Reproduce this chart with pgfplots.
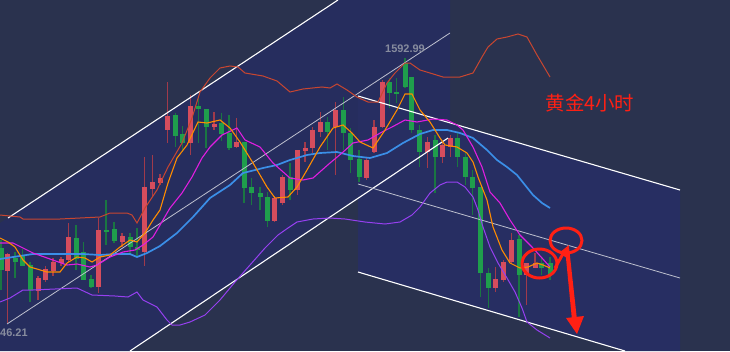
\documentclass[border=0pt]{standalone}
\usepackage{pgfplots}
\pgfplotsset{compat=1.18}
\usepackage{pgfplotstable}
\usepackage{fontspec}
\setmainfont{Liberation Sans}
\newfontfamily\cjk{Noto Sans CJK SC}
\definecolor{slate}{RGB}{42,50,78}
\definecolor{chan}{RGB}{38,45,94}
\definecolor{chanb}{RGB}{39,46,98}
\definecolor{cred}{RGB}{214,77,93}
\definecolor{credw}{RGB}{160,58,75}
\definecolor{cgreen}{RGB}{31,158,76}
\definecolor{cgreenw}{RGB}{26,118,66}
\definecolor{bandr}{RGB}{200,70,48}
\definecolor{maor}{RGB}{255,140,0}
\definecolor{mamag}{RGB}{224,30,224}
\definecolor{mablue}{RGB}{59,143,232}
\definecolor{mapur}{RGB}{150,64,240}
\definecolor{annot}{RGB}{255,32,20}
\definecolor{lbl}{RGB}{135,140,158}

\pgfplotstableread{
x t b h l
7.5 254 271 253 323
38 278 291 276 300
45.5 269 280 266 282
53 262 271 258 276
61 259 263 257 266
68.5 237 260 223 262
98.5 230 287 218 293
122 236 242 233 247
144.7 187 252 157 266
152.7 182 189 155 197
160 178 183 174 185
167.7 116 130 82 143
190.7 106 143 95 155
214 124 127 112 130
236.7 142 147 118 148
274.3 198 221 196 222
282.3 177 203 175 205
297.7 150 190 150 195
305 148 151 142 162
312.7 130 148 127 153
320.7 122 132 112 137
335.7 110 127 102 175
366.7 160 178 157 180
374 127 152 120 153
382.3 82 127 80 128
427.3 142 152 137 168
442.5 145 157 142 163
450.7 138 147 135 157
495.7 279 288 267 292
503.3 262 280 260 282
511.3 240 262 233 263
526.7 263 275 263 305
535 263 268 253 268
}\redc

\pgfplotstableread{
x t b h l
1 248 270 240 290
15 258 262 252 278
22.5 255 266 249 266
30 265 290 262 302
76 238 259 225 270
83.5 252 280 242 280
91 279 287 275 288
106 230 232 200 245
114 229 241 222 243
130 237 247 233 255
137 247 250 228 257
175.7 115 136 113 147
182.7 134 143 126 152
198.3 106 109 97 143
206 109 127 109 148
221.7 123 134 113 141
229 133 148 115 150
244 142 188 142 203
251.7 187 193 178 205
260 193 197 187 210
267.3 197 221 192 227
290 177 190 163 200
327.7 122 132 117 150
343.3 110 133 97 150
350.7 133 160 128 173
359 159 177 150 182
389.3 82 93 78 108
396.7 92 93 78 103
405 63 87 58 88
411.7 77 130 77 133
419.3 130 152 125 167
435 140 157 135 193
457.7 138 157 133 167
465.7 157 177 153 185
472.7 177 188 170 215
480.7 187 273 187 297
488.3 273 288 268 308
519 239 275 235 317
541.7 263 268 258 275
550 263 275 257 280
}\greenc

\begin{document}
\begin{tikzpicture}
\begin{axis}[
  width=730bp, height=351bp, scale only axis,
  xmin=0, xmax=730, ymin=0, ymax=351, y dir=reverse,
  axis lines=none, clip=true,
]
% backgrounds
\addplot[fill=slate, draw=none] coordinates {(0,0) (730,0) (730,351) (0,351)} -- cycle;
\addplot[fill=chan, draw=none] coordinates {(0,223) (338,0) (450,0) (450,137) (130,351) (0,351)} -- cycle;
\addplot[fill=chanb, draw=none] coordinates {(358,96) (680,190) (680,351) (625,351) (358,272)} -- cycle;

% candles: wicks
\addplot[draw=none, mark=none, forget plot, error bars/.cd, y dir=both, y explicit, error mark=none,
  error bar style={draw=credw, line width=1.3bp}]
  table[x=x, y expr={(\thisrow{h}+\thisrow{l})/2}, y error expr={(\thisrow{l}-\thisrow{h})/2}] {\redc};
\addplot[draw=none, mark=none, forget plot, error bars/.cd, y dir=both, y explicit, error mark=none,
  error bar style={draw=cgreenw, line width=1.3bp}]
  table[x=x, y expr={(\thisrow{h}+\thisrow{l})/2}, y error expr={(\thisrow{l}-\thisrow{h})/2}] {\greenc};
% candles: bodies
\addplot[draw=none, mark=none, forget plot, error bars/.cd, y dir=both, y explicit, error mark=none,
  error bar style={draw=cred, line width=5bp}]
  table[x=x, y expr={(\thisrow{t}+\thisrow{b})/2}, y error expr={max(0.5,(\thisrow{b}-\thisrow{t})/2)}] {\redc};
\addplot[draw=none, mark=none, forget plot, error bars/.cd, y dir=both, y explicit, error mark=none,
  error bar style={draw=cgreen, line width=5bp}]
  table[x=x, y expr={(\thisrow{t}+\thisrow{b})/2}, y error expr={max(0.5,(\thisrow{b}-\thisrow{t})/2)}] {\greenc};

% channel lines
\addplot[white, line width=1.1bp] coordinates {(8,218) (338,0)};
\addplot[white, line width=1.1bp] coordinates {(130,351) (448,138)};
\addplot[white!70!chan, line width=0.8bp] coordinates {(7,324) (450,33)};
\addplot[white, line width=1.1bp] coordinates {(358,96) (680,190)};
\addplot[white!70!chan, line width=0.8bp] coordinates {(358,184) (680,278)};
\addplot[white, line width=1.1bp] coordinates {(358,272) (625,351)};

% upper band
\addplot[bandr, line width=1bp] coordinates {
(0,215) (20,217) (23,219) (60,219) (100,217) (110,213) (127,213) (132,215) (137,223) (145,208)
(157,190) (168,167) (182,143) (192,118) (200,92) (210,78) (220,68) (230,66) (238,67) (245,73)
(263,76) (277,81) (290,92) (303,89) (322,87) (330,88) (337,84) (347,90) (357,97) (368,102)
(378,102) (387,83) (395,73) (405,63) (410,63) (420,70) (430,73) (443,77) (460,77) (473,73)
(482,57) (488,47) (497,39) (507,37) (518,34) (527,37) (537,55) (550,77)};
% lower band
\addplot[mapur, line width=1bp] coordinates {
(0,302) (10,298) (23,290) (33,290) (77,288) (92,295) (115,296) (128,297) (137,292) (143,300)
(157,307) (167,320) (172,325) (180,325) (190,322) (205,315) (220,300) (235,282) (250,265)
(265,248) (278,235) (288,228) (297,222) (313,219) (330,218) (345,219) (365,222) (385,224)
(400,222) (412,215) (420,207) (430,193) (440,185) (447,182) (457,182) (465,187) (473,197)
(478,210) (483,227) (490,247) (498,263) (507,278) (515,292) (522,308) (527,322) (537,330) (550,338)};
% blue MA
\addplot[mablue, line width=1.7bp] coordinates {
(0,259) (13,257) (33,254) (50,254) (83,254) (100,255) (115,254) (130,254) (137,257) (147,253)
(160,246) (177,233) (193,217) (210,198) (230,185) (243,173) (263,168) (277,165) (290,160)
(307,155) (320,153) (337,152) (353,156) (370,158) (387,153) (403,143) (420,134) (433,130)
(447,130) (460,133) (473,138) (487,150) (497,160) (507,167) (517,175) (525,185) (533,195)
(542,203) (550,208)};
% magenta MA
\addplot[mamag, line width=1.1bp] coordinates {
(0,243) (13,243) (27,250) (33,253) (50,259) (67,265) (77,264) (90,267) (97,265) (110,257)
(123,252) (135,250) (143,245) (153,237) (163,220) (170,208) (182,193) (192,177) (202,158)
(210,147) (222,135) (237,128) (245,140) (260,147) (273,163) (290,178) (303,180) (313,178)
(330,163) (342,153) (353,143) (368,140) (382,132) (392,127) (405,120) (417,122) (433,119)
(447,120) (457,125) (463,130) (473,147) (482,167) (490,192) (500,203) (510,220) (520,235)
(532,247) (542,258) (550,267)};
% orange MA
\addplot[maor, line width=1.1bp] coordinates {
(0,238) (8,242) (15,247) (23,260) (30,267) (37,269) (47,272) (60,272) (67,263) (77,257)
(85,258) (92,262) (100,257) (110,255) (120,247) (130,240) (137,242) (145,233) (153,220)
(160,210) (168,183) (177,158) (187,145) (198,122) (207,123) (220,120) (230,128) (240,142)
(253,163) (267,187) (275,198) (288,197) (297,187) (307,170) (320,147) (333,128) (343,125)
(352,133) (360,142) (373,148) (385,130) (397,110) (405,94) (412,94) (420,110) (430,122)
(440,138) (445,145) (457,147) (467,153) (473,162) (478,177) (487,200) (493,227) (502,250)
(510,263) (520,268) (528,267) (537,263) (543,265) (550,268)};

% labels
\node[anchor=center, text=lbl, font=\bfseries\fontsize{11}{11}\selectfont] at (axis cs:405,49) {1592.99};
\node[anchor=west, text=lbl, font=\bfseries\fontsize{11}{11}\selectfont, inner sep=0pt] at (axis cs:0,333) {46.21};
\node[anchor=center, text=annot, font=\cjk\fontsize{19.5}{19.5}\selectfont] at (axis cs:590,103) {黄金4小时};

% annotations
\draw[annot, line width=3bp] (axis cs:539.5,263.5) ellipse [x radius=17.5, y radius=14.5];
\draw[annot, line width=3bp] (axis cs:566,240.5) ellipse [x radius=16, y radius=12.5];
\draw[annot, line width=3bp] (axis cs:555,268) -- (axis cs:564,252);
\fill[annot] (axis cs:559,253) -- (axis cs:569,245) -- (axis cs:567,258) -- cycle;
\fill[annot] (axis cs:565,248) -- (axis cs:569,247) -- (axis cs:577,320) -- (axis cs:572,320) -- cycle;
\fill[annot] (axis cs:566,318) -- (axis cs:584,316) -- (axis cs:577,334) -- cycle;
\end{axis}
\pgfresetboundingbox
\path (current axis.south west) rectangle (current axis.north east);
\end{tikzpicture}
\end{document}
